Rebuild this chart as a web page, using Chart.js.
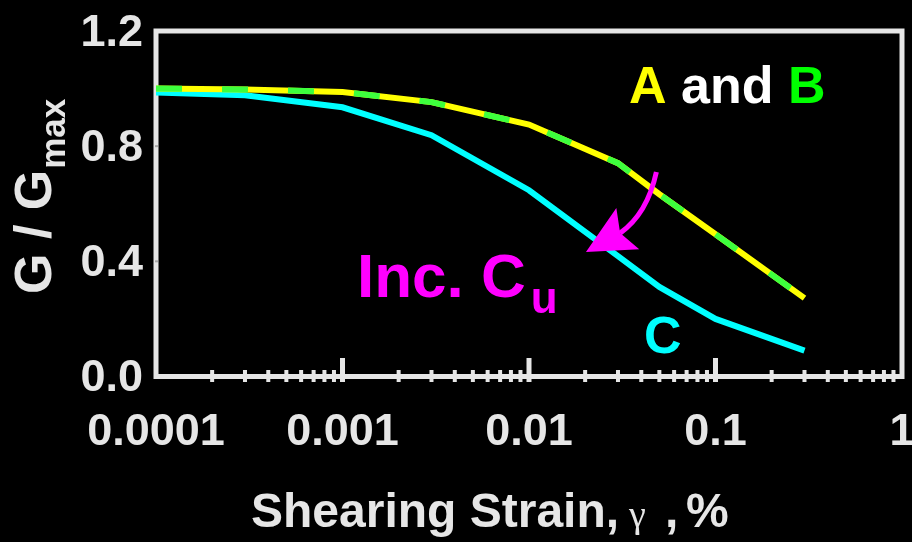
<!DOCTYPE html>
<html>
<head>
<meta charset="utf-8">
<script src="https://cdn.jsdelivr.net/npm/chart.js@4/dist/chart.umd.min.js"></script>
<style>
  html, body { margin: 0; padding: 0; background: #000; }
  #wrap { width: 912px; height: 542px; }
</style>
</head>
<body>
<div id="wrap"><canvas id="c" width="912" height="542"></canvas></div>
<script>
// Shear strain (%) and normalized modulus G/Gmax for three soils
const strain = [0.0001, 0.0003, 0.001, 0.003, 0.01, 0.03, 0.05, 0.1, 0.3];
const soilA  = [1.0, 0.997, 0.988, 0.953, 0.875, 0.741, 0.633, 0.494, 0.272];
const soilB  = [1.0, 0.997, 0.988, 0.953, 0.875, 0.741, 0.633, 0.494, 0.272];
const soilC  = [0.986, 0.977, 0.935, 0.838, 0.647, 0.418, 0.311, 0.200, 0.090];

const xTickValues = [0.0001, 0.001, 0.01, 0.1, 1];
const xTickLabels = ['0.0001', '0.001', '0.01', '0.1', '1'];
const yTickValues = [0, 0.4, 0.8, 1.2];
const yTickLabels = ['0.0', '0.4', '0.8', '1.2'];

// "Inc. Cu" arrow, in data units: shaft start, bend control, shaft end, head tip, barbs
const arrowShaft = [[0.0482, 0.710], [0.0430, 0.564], [0.0308, 0.498]];
const arrowHead  = [[0.0202, 0.432], [0.0294, 0.585], [0.0308, 0.498], [0.0390, 0.442]];

const AXIS = '#e6e6e6';
const SANS = "'Liberation Sans', Arial, sans-serif";

const pts = (ys) => strain.map((s, i) => ({ x: s, y: ys[i] }));

const decor = {
  id: 'decor',
  beforeDatasetsDraw(chart) {
    const { ctx, chartArea: a, scales: { x, y } } = chart;
    ctx.save();
    // frame
    ctx.strokeStyle = AXIS;
    ctx.lineWidth = 5;
    ctx.strokeRect(a.left, a.top, a.right - a.left, a.bottom - a.top);
    // log ticks on the bottom axis
    ctx.fillStyle = AXIS;
    for (let e = -4; e < 0; e++) {
      for (let m = 1; m < 10; m++) {
        const px = x.getPixelForValue(m * Math.pow(10, e));
        if (m === 1) {
          if (e === -4) continue;
          ctx.fillRect(px - 2.5, a.bottom - 18.5, 5, 24);
        } else {
          ctx.fillRect(px - 2, a.bottom - 6.5, 4, 12);
        }
      }
    }
    // faint marks on the left axis
    ctx.fillStyle = '#a8a8a8';
    [0.4, 0.8].forEach(v => {
      const py = y.getPixelForValue(v);
      ctx.fillRect(a.left - 1, py - 1, 3, 2);
    });
    // tick labels
    ctx.fillStyle = AXIS;
    ctx.font = 'bold 45px ' + SANS;
    ctx.textBaseline = 'alphabetic';
    ctx.textAlign = 'right';
    yTickValues.forEach((v, i) => {
      ctx.fillText(yTickLabels[i], a.left - 13, y.getPixelForValue(v) + 14.5);
    });
    ctx.textAlign = 'center';
    xTickValues.forEach((v, i) => {
      ctx.fillText(xTickLabels[i], x.getPixelForValue(v), 445);
    });
    // y-axis title G / Gmax
    ctx.save();
    ctx.translate(51, 294);
    ctx.rotate(-Math.PI / 2);
    ctx.textAlign = 'left';
    ctx.font = 'bold 52px ' + SANS;
    ctx.fillText('G / G', 0, 0);
    const gw = ctx.measureText('G / G').width;
    ctx.font = 'bold 35px ' + SANS;
    ctx.fillText('max', gw + 1, 14);
    ctx.restore();
    // x-axis title
    ctx.textAlign = 'left';
    const ty = 527;
    ctx.font = 'bold 48px ' + SANS;
    ctx.fillText('Shearing Strain,', 251, ty);
    ctx.font = "38px 'Liberation Serif', 'DejaVu Serif', serif";
    ctx.fillText('\u03b3', 629, ty);
    ctx.font = 'bold 48px ' + SANS;
    ctx.fillText(',', 665, ty);
    ctx.fillText('%', 686, ty);
    ctx.restore();
  },
  afterDatasetsDraw(chart) {
    const { ctx, scales: { x, y } } = chart;
    const P = ([sx, sy]) => [x.getPixelForValue(sx), y.getPixelForValue(sy)];
    ctx.save();
    ctx.textAlign = 'left';
    ctx.textBaseline = 'alphabetic';
    // "A and B"
    ctx.font = 'bold 52px ' + SANS;
    let lx = 629;
    ctx.fillStyle = '#ffff00'; ctx.fillText('A', lx, 103); lx += ctx.measureText('A').width;
    ctx.fillStyle = '#ffffff'; ctx.fillText(' and ', lx, 103); lx += ctx.measureText(' and ').width;
    ctx.fillStyle = '#00ff00'; ctx.fillText('B', lx, 103);
    // "C"
    ctx.fillStyle = '#00ffff';
    ctx.fillText('C', 644, 353);
    // "Inc. Cu"
    ctx.fillStyle = '#ff00ff';
    ctx.font = 'bold 62px ' + SANS;
    ctx.fillText('Inc. C', 357, 297);
    const iw = ctx.measureText('Inc. C').width;
    ctx.font = 'bold 44px ' + SANS;
    ctx.fillText('u', 357 + iw + 5, 313);
    // arrow
    const s0 = P(arrowShaft[0]), s1 = P(arrowShaft[1]), s2 = P(arrowShaft[2]);
    ctx.strokeStyle = '#ff00ff';
    ctx.lineWidth = 5;
    ctx.beginPath();
    ctx.moveTo(s0[0], s0[1]);
    ctx.quadraticCurveTo(s1[0], s1[1], s2[0], s2[1]);
    ctx.stroke();
    ctx.beginPath();
    arrowHead.map(P).forEach((p, i) => i ? ctx.lineTo(p[0], p[1]) : ctx.moveTo(p[0], p[1]));
    ctx.closePath();
    ctx.fill();
    ctx.restore();
  }
};

new Chart(document.getElementById('c'), {
  type: 'line',
  data: {
    datasets: [
      { label: 'B', data: pts(soilB), borderColor: '#3dff3d', borderWidth: 6, borderDash: [26, 40],
        pointRadius: 0, tension: 0, order: 0, borderCapStyle: 'butt' },
      { label: 'A', data: pts(soilA), borderColor: '#ffff00', borderWidth: 6,
        pointRadius: 0, tension: 0, order: 1, borderCapStyle: 'butt' },
      { label: 'C', data: pts(soilC), borderColor: '#00ffff', borderWidth: 6,
        pointRadius: 0, tension: 0, order: 2, borderCapStyle: 'butt' }
    ]
  },
  options: {
    responsive: false,
    animation: false,
    devicePixelRatio: 1,
    layout: { padding: { left: 156, top: 31, right: 10, bottom: 165.5 } },
    plugins: { legend: { display: false }, tooltip: { enabled: false } },
    scales: {
      x: { type: 'logarithmic', min: 0.0001, max: 1, display: false },
      y: { type: 'linear', min: 0, max: 1.2, display: false }
    }
  },
  plugins: [decor]
});
</script>
</body>
</html>
